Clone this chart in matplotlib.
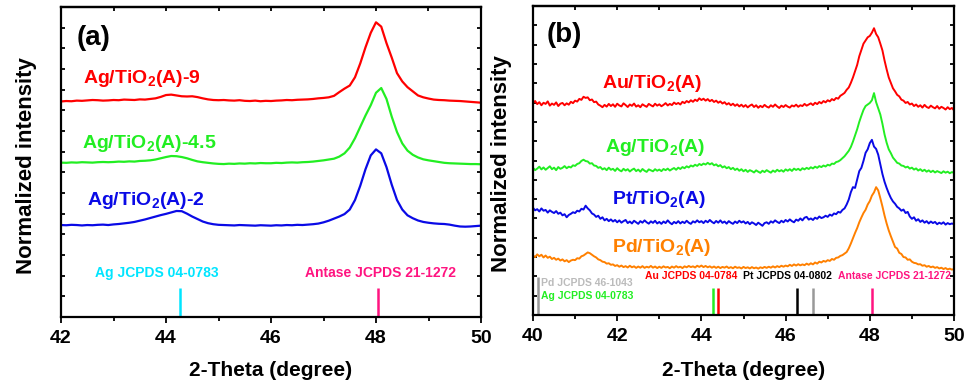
import numpy as np
import matplotlib
matplotlib.use('Agg')
import matplotlib.pyplot as plt

plt.rcParams['font.family'] = ['Liberation Sans', 'DejaVu Sans']
plt.rcParams['font.weight'] = 'bold'
plt.rcParams['mathtext.fontset'] = 'custom'
plt.rcParams['mathtext.rm'] = 'Liberation Sans:bold'
plt.rcParams['mathtext.default'] = 'rm'

# ---- panel (a): Ag loading series, 2-theta 42..50 (step 0.1)
ag9 = [10.43, 10.45, 10.44, 10.47, 10.46, 10.48, 10.50, 10.49, 10.47, 10.48,
       10.50, 10.49, 10.52, 10.51, 10.50, 10.53, 10.52, 10.55, 10.58, 10.65,
       10.74, 10.76, 10.72, 10.68, 10.67, 10.68, 10.64, 10.58, 10.53, 10.50,
       10.49, 10.50, 10.48, 10.47, 10.49, 10.46, 10.45, 10.47, 10.44, 10.46,
       10.45, 10.47, 10.48, 10.50, 10.49, 10.51, 10.52, 10.53, 10.55, 10.58,
       10.60, 10.63, 10.70, 10.88, 11.05, 11.20, 11.60, 12.27, 13.05, 13.75,
       14.26, 14.05, 13.25, 12.55, 11.80, 11.40, 11.12, 10.92, 10.72, 10.63,
       10.57, 10.52, 10.50, 10.49, 10.47, 10.46, 10.45, 10.43, 10.41, 10.39,
       10.37]
ag45 = [7.47, 7.46, 7.48, 7.47, 7.49, 7.48, 7.47, 7.49, 7.50, 7.49,
        7.50, 7.52, 7.51, 7.53, 7.52, 7.55, 7.56, 7.58, 7.62, 7.68,
        7.74, 7.79, 7.78, 7.74, 7.68, 7.60, 7.53, 7.49, 7.46, 7.43,
        7.41, 7.40, 7.42, 7.41, 7.43, 7.42, 7.44, 7.43, 7.45, 7.44,
        7.44, 7.46, 7.45, 7.47, 7.48, 7.47, 7.49, 7.50, 7.52, 7.55,
        7.58, 7.62, 7.66, 7.76, 7.92, 8.20, 8.65, 9.20, 9.75, 10.25,
        10.85, 11.08, 10.55, 9.69, 8.95, 8.40, 8.05, 7.85, 7.72, 7.63,
        7.58, 7.54, 7.50, 7.46, 7.44, 7.43, 7.42, 7.41, 7.40, 7.40,
        7.39]
ag2 = [4.45, 4.44, 4.46, 4.45, 4.43, 4.45, 4.44, 4.46, 4.47, 4.45,
       4.48, 4.50, 4.53, 4.56, 4.60, 4.66, 4.72, 4.79, 4.86, 4.93,
       4.99, 5.06, 5.13, 5.12, 5.00, 4.86, 4.74, 4.62, 4.54, 4.49,
       4.46, 4.45, 4.44, 4.43, 4.45, 4.44, 4.43, 4.42, 4.44, 4.43,
       4.42, 4.44, 4.43, 4.45, 4.44, 4.46, 4.45, 4.47, 4.49, 4.52,
       4.58, 4.66, 4.76, 4.86, 4.98, 5.20, 5.66, 6.35, 7.15, 7.82,
       8.11, 7.92, 7.25, 6.40, 5.66, 5.20, 4.92, 4.78, 4.67, 4.60,
       4.56, 4.53, 4.51, 4.50, 4.47, 4.42, 4.38, 4.37, 4.38, 4.40,
       4.42]
names_a = ['Ag/TiO$_2$(A)-9', 'Ag/TiO$_2$(A)-4.5', 'Ag/TiO$_2$(A)-2']
colors_a = ['#ff0000', '#22ee22', '#0a0ae6']
label_xy_a = [(42.42, 11.32), (42.40, 8.18), (42.50, 5.42)]
ref_a = ['Ag JCPDS 04-0783', 'Antase JCPDS 21-1272']
ref_pos_a = [44.27, 48.04]
ref_col_a = ['#00e5ff', '#ff1480']
ref_txt_a = [(42.65, 1.94), (46.65, 1.94)]

# ---- panel (b): different metals, 2-theta 40..50 (step 0.05)
au = [10.97, 11.08, 10.92, 11.02, 10.86, 10.99, 10.93, 11.06, 10.84, 10.95,
      10.88, 11.01, 10.82, 10.94, 10.98, 10.86, 10.96, 10.89, 11.04, 10.97,
      11.10, 11.05, 11.19, 11.14, 11.30, 11.24, 11.27, 11.12, 11.16, 11.02,
      11.05, 10.90, 10.84, 10.76, 10.88, 10.79, 10.93, 10.82, 10.91, 10.78,
      10.94, 10.85, 10.80, 10.96, 10.87, 10.77, 10.90, 10.83, 10.95, 10.79,
      10.86, 10.76, 10.91, 10.84, 10.78, 10.93, 10.86, 10.80, 10.94, 10.84,
      10.91, 10.81, 10.88, 10.97, 10.85, 10.93, 10.87, 11.00, 10.92, 10.98,
      10.90, 11.04, 10.97, 11.08, 11.01, 11.12, 11.04, 11.15, 11.08, 11.22,
      11.13, 11.20, 11.10, 11.18, 11.07, 11.14, 11.03, 11.10, 10.99, 11.06,
      10.95, 11.02, 10.90, 10.97, 10.86, 10.94, 10.83, 10.91, 10.80, 10.89,
      10.78, 10.87, 10.75, 10.84, 10.90, 10.77, 10.86, 10.73, 10.83, 10.76,
      10.88, 10.79, 10.74, 10.86, 10.78, 10.90, 10.80, 10.72, 10.84, 10.77,
      10.87, 10.79, 10.74, 10.85, 10.80, 10.89, 10.78, 10.86, 10.82, 10.93,
      10.84, 10.90, 10.96, 10.87, 10.99, 10.92, 11.03, 10.96, 11.08, 11.01,
      11.12, 11.06, 11.18, 11.12, 11.24, 11.20, 11.35, 11.42, 11.50, 11.66,
      11.78, 12.02, 12.30, 12.62, 12.95, 13.40, 13.72, 14.05, 14.22, 14.38,
      14.45, 14.62, 14.85, 14.55, 14.38, 14.05, 13.70, 13.18, 12.72, 12.30,
      12.02, 11.74, 11.58, 11.40, 11.32, 11.15, 11.10, 10.98, 11.03, 10.90,
      10.95, 10.82, 10.90, 10.78, 10.86, 10.74, 10.88, 10.77, 10.72, 10.84,
      10.76, 10.70, 10.82, 10.68, 10.78, 10.72, 10.64, 10.76, 10.66, 10.72,
      10.60]
ag = [7.62, 7.50, 7.58, 7.68, 7.54, 7.64, 7.52, 7.61, 7.70, 7.55,
      7.63, 7.50, 7.66, 7.57, 7.62, 7.71, 7.60, 7.68, 7.64, 7.75,
      7.72, 7.82, 7.86, 7.98, 8.04, 7.97, 7.95, 7.84, 7.86, 7.74,
      7.72, 7.62, 7.66, 7.54, 7.60, 7.50, 7.63, 7.52, 7.57, 7.46,
      7.60, 7.50, 7.44, 7.57, 7.48, 7.55, 7.43, 7.52, 7.58, 7.45,
      7.53, 7.42, 7.56, 7.47, 7.41, 7.54, 7.49, 7.44, 7.55, 7.47,
      7.53, 7.45, 7.56, 7.50, 7.58, 7.48, 7.55, 7.61, 7.52, 7.63,
      7.56, 7.66, 7.60, 7.70, 7.64, 7.74, 7.69, 7.78, 7.72, 7.82,
      7.76, 7.84, 7.79, 7.88, 7.80, 7.86, 7.75, 7.80, 7.70, 7.76,
      7.64, 7.70, 7.60, 7.66, 7.55, 7.62, 7.51, 7.58, 7.47, 7.55,
      7.44, 7.52, 7.41, 7.50, 7.45, 7.38, 7.49, 7.42, 7.36, 7.47,
      7.40, 7.50, 7.43, 7.37, 7.48, 7.41, 7.52, 7.44, 7.50, 7.42,
      7.54, 7.47, 7.55, 7.46, 7.58, 7.51, 7.57, 7.49, 7.60, 7.54,
      7.62, 7.56, 7.65, 7.59, 7.68, 7.62, 7.71, 7.66, 7.74, 7.69,
      7.78, 7.74, 7.84, 7.82, 7.92, 7.95, 8.02, 8.12, 8.22, 8.36,
      8.50, 8.70, 8.98, 9.30, 9.62, 10.00, 10.32, 10.62, 10.82, 10.90,
      10.98, 11.12, 11.49, 11.02, 10.70, 10.38, 9.90, 9.35, 8.92, 8.58,
      8.38, 8.15, 8.02, 7.88, 7.84, 7.74, 7.72, 7.64, 7.68, 7.58,
      7.63, 7.53, 7.59, 7.48, 7.55, 7.45, 7.52, 7.42, 7.49, 7.40,
      7.47, 7.38, 7.45, 7.40, 7.35, 7.44, 7.37, 7.42, 7.34, 7.40,
      7.36]
pt = [5.55, 5.42, 5.48, 5.36, 5.52, 5.40, 5.44, 5.30, 5.42, 5.34,
      5.28, 5.38, 5.24, 5.30, 5.16, 5.22, 5.06, 5.18, 5.24, 5.32,
      5.28, 5.40, 5.36, 5.50, 5.46, 5.66, 5.52, 5.42, 5.26, 5.20,
      5.08, 5.14, 4.98, 5.06, 4.90, 4.98, 4.86, 4.95, 4.84, 4.92,
      4.80, 4.90, 4.78, 4.86, 4.92, 4.76, 4.84, 4.74, 4.88, 4.80,
      4.72, 4.86, 4.78, 4.90, 4.80, 4.73, 4.85, 4.77, 4.88, 4.74,
      4.82, 4.72, 4.84, 4.76, 4.90, 4.78, 4.70, 4.82, 4.75, 4.86,
      4.74, 4.83, 4.76, 4.88, 4.78, 4.72, 4.85, 4.79, 4.90, 4.80,
      4.86, 4.76, 4.88, 4.80, 4.92, 4.82, 4.75, 4.87, 4.78, 4.90,
      4.77, 4.84, 4.73, 4.86, 4.78, 4.72, 4.84, 4.76, 4.88, 4.79,
      4.85, 4.74, 4.82, 4.70, 4.80, 4.74, 4.66, 4.78, 4.70, 4.62,
      4.76, 4.80, 4.72, 4.85, 4.78, 4.90, 4.82, 4.76, 4.88, 4.80,
      4.92, 4.84, 4.95, 4.86, 4.80, 4.94, 4.88, 5.00, 4.90, 5.04,
      5.08, 4.94, 5.00, 4.92, 5.04, 4.98, 5.10, 5.02, 5.06, 5.14,
      5.08, 5.20, 5.14, 5.26, 5.22, 5.34, 5.30, 5.44, 5.52, 5.72,
      5.98, 6.36, 6.62, 6.58, 7.02, 7.45, 7.62, 7.98, 8.40, 8.58,
      8.90, 9.07, 8.72, 8.60, 8.30, 7.80, 7.30, 6.90, 6.58, 6.30,
      6.06, 5.88, 5.76, 5.60, 5.52, 5.40, 5.46, 5.28, 5.34, 5.10,
      4.98, 5.06, 4.88, 4.96, 4.82, 4.90, 4.78, 4.86, 4.74, 4.84,
      4.76, 4.82, 4.70, 4.78, 4.72, 4.80, 4.68, 4.76, 4.70, 4.74,
      4.70]
pd_ = [3.08, 3.00, 3.14, 3.04, 3.12, 2.98, 3.08, 2.96, 3.02, 2.90,
       2.96, 2.86, 2.92, 2.82, 2.88, 2.78, 2.84, 2.74, 2.82, 2.86,
       2.84, 2.94, 2.92, 3.04, 3.08, 3.16, 3.24, 3.20, 3.12, 3.04,
       2.98, 2.88, 2.84, 2.76, 2.74, 2.66, 2.68, 2.60, 2.62, 2.54,
       2.58, 2.50, 2.56, 2.48, 2.53, 2.46, 2.55, 2.47, 2.52, 2.44,
       2.51, 2.45, 2.53, 2.44, 2.50, 2.46, 2.54, 2.45, 2.51, 2.43,
       2.50, 2.44, 2.52, 2.46, 2.49, 2.42, 2.51, 2.45, 2.53, 2.46,
       2.50, 2.43, 2.52, 2.47, 2.54, 2.48, 2.52, 2.46, 2.55, 2.49,
       2.56, 2.48, 2.54, 2.47, 2.52, 2.45, 2.51, 2.44, 2.50, 2.43,
       2.49, 2.45, 2.51, 2.43, 2.48, 2.42, 2.50, 2.44, 2.47, 2.41,
       2.49, 2.43, 2.47, 2.41, 2.48, 2.42, 2.46, 2.40, 2.47, 2.43,
       2.49, 2.44, 2.50, 2.45, 2.52, 2.46, 2.53, 2.48, 2.55, 2.50,
       2.56, 2.52, 2.60, 2.54, 2.62, 2.56, 2.63, 2.57, 2.62, 2.58,
       2.66, 2.60, 2.68, 2.62, 2.72, 2.66, 2.76, 2.72, 2.80, 2.76,
       2.84, 2.80, 2.90, 2.86, 2.96, 2.98, 3.06, 3.10, 3.18, 3.26,
       3.45, 3.70, 3.98, 4.25, 4.50, 4.80, 5.05, 5.28, 5.45, 5.72,
       5.90, 6.18, 6.35, 6.62, 6.45, 6.05, 5.62, 5.15, 4.74, 4.38,
       4.08, 3.80, 3.52, 3.44, 3.22, 3.16, 3.00, 2.98, 2.86, 2.88,
       2.76, 2.70, 2.68, 2.62, 2.63, 2.55, 2.58, 2.50, 2.54, 2.47,
       2.51, 2.44, 2.48, 2.41, 2.45, 2.38, 2.43, 2.36, 2.40, 2.35,
       2.38]
names_b = ['Au/TiO$_2$(A)', 'Ag/TiO$_2$(A)', 'Pt/TiO$_2$(A)', 'Pd/TiO$_2$(A)']
colors_b = ['#ff0000', '#22ee22', '#0a0ae6', '#ff8000']
label_xy_b = [(41.64, 11.76), (41.71, 8.45), (41.88, 5.75), (41.88, 3.26)]
stick_pos_b = [40.12, 44.28, 44.39, 46.26, 46.66, 48.05]
stick_h_b = [1.97, 1.4, 1.4, 1.4, 1.4, 1.4]
stick_col_b = ['#999999', '#22ee22', '#ff0000', '#000000', '#999999', '#ff1480']
ref_b = ['Pd JCPDS 46-1043', 'Ag JCPDS 04-0783', 'Au JCPDS 04-0784',
         'Pt JCPDS 04-0802', 'Antase JCPDS 21-1272']
ref_col_b = ['#bbbbbb', '#22ee22', '#ff0000', '#000000', '#ff1480']
ref_txt_b = [(40.2, 1.50), (40.2, 0.83), (42.66, 1.87), (44.99, 1.87), (47.25, 1.87)]

fig = plt.figure(figsize=(9.7, 3.88), dpi=100)
ax1 = fig.add_axes([61/970, 71/388, 420/970, 310/388])
ax2 = fig.add_axes([533/970, 73/388, 421/970, 309/388])


def style_axis(ax, xmin, ymax, letter, letter_xy):
    ax.set_xlim(xmin, 50)
    ax.set_ylim(0, ymax)
    ax.set_xticks(np.arange(xmin, 50.1, 2))
    ax.set_xticks(np.arange(xmin + 1, 50, 2), minor=True)
    ax.set_yticks(np.arange(1, ymax))
    ax.tick_params(axis='x', which='major', direction='out', length=4.5, width=1.3,
                   labelsize=14, pad=5, top=False)
    ax.tick_params(axis='x', which='minor', direction='out', length=3, width=1.3, top=False)
    ax.tick_params(axis='y', direction='in', length=3, width=1.3,
                   left=True, right=True, labelleft=False)
    top = ax.secondary_xaxis('top')
    top.set_xticks(np.arange(xmin, 50.1, 1))
    top.tick_params(direction='in', length=3, width=1.3, labeltop=False)
    top.spines['top'].set_linewidth(1.6)
    for s in ax.spines.values():
        s.set_linewidth(1.6)
    for lab in ax.get_xticklabels():
        lab.set_fontweight('bold')
    ax.set_xlabel('2-Theta (degree)', fontsize=15, fontweight='bold')
    ax.set_ylabel('Normalized intensity', fontsize=16, fontweight='bold')
    ax.text(letter_xy[0], letter_xy[1], letter, fontsize=20, fontweight='bold')


# panel (a)
theta_a = np.linspace(42, 50, len(ag9))
for y, c, n, (tx, ty) in zip([ag9, ag45, ag2], colors_a, names_a, label_xy_a):
    ax1.plot(theta_a, y, color=c, lw=1.6)
    ax1.text(tx, ty, n, color=c, fontsize=14, fontweight='bold')
for p, c, t, (tx, ty) in zip(ref_pos_a, ref_col_a, ref_a, ref_txt_a):
    ax1.vlines(p, 0, 1.4, color=c, lw=1.8)
    ax1.text(tx, ty, t, color=c, fontsize=10, fontweight='bold')
style_axis(ax1, 42, 15, '(a)', (42.29, 13.16))
ax1.yaxis.set_label_coords(-0.057, 0.49)
ax1.xaxis.set_label_coords(0.5, -0.143)

# panel (b)
theta_b = np.linspace(40, 50, len(au))
for y, c, n, (tx, ty) in zip([au, ag, pt, pd_], colors_b, names_b, label_xy_b):
    ax2.plot(theta_b, y, color=c, lw=1.4)
    ax2.text(tx, ty, n, color=c, fontsize=14, fontweight='bold')
ax2.vlines(stick_pos_b, 0, stick_h_b, colors=stick_col_b, lw=1.8)
for t, c, (tx, ty) in zip(ref_b, ref_col_b, ref_txt_b):
    ax2.text(tx, ty, t, color=c, fontsize=7.5, fontweight='bold')
style_axis(ax2, 40, 16, '(b)', (40.33, 14.15))
ax2.yaxis.set_label_coords(-0.049, 0.489)
ax2.xaxis.set_label_coords(0.5, -0.148)

fig.savefig('out.png', dpi=100)
